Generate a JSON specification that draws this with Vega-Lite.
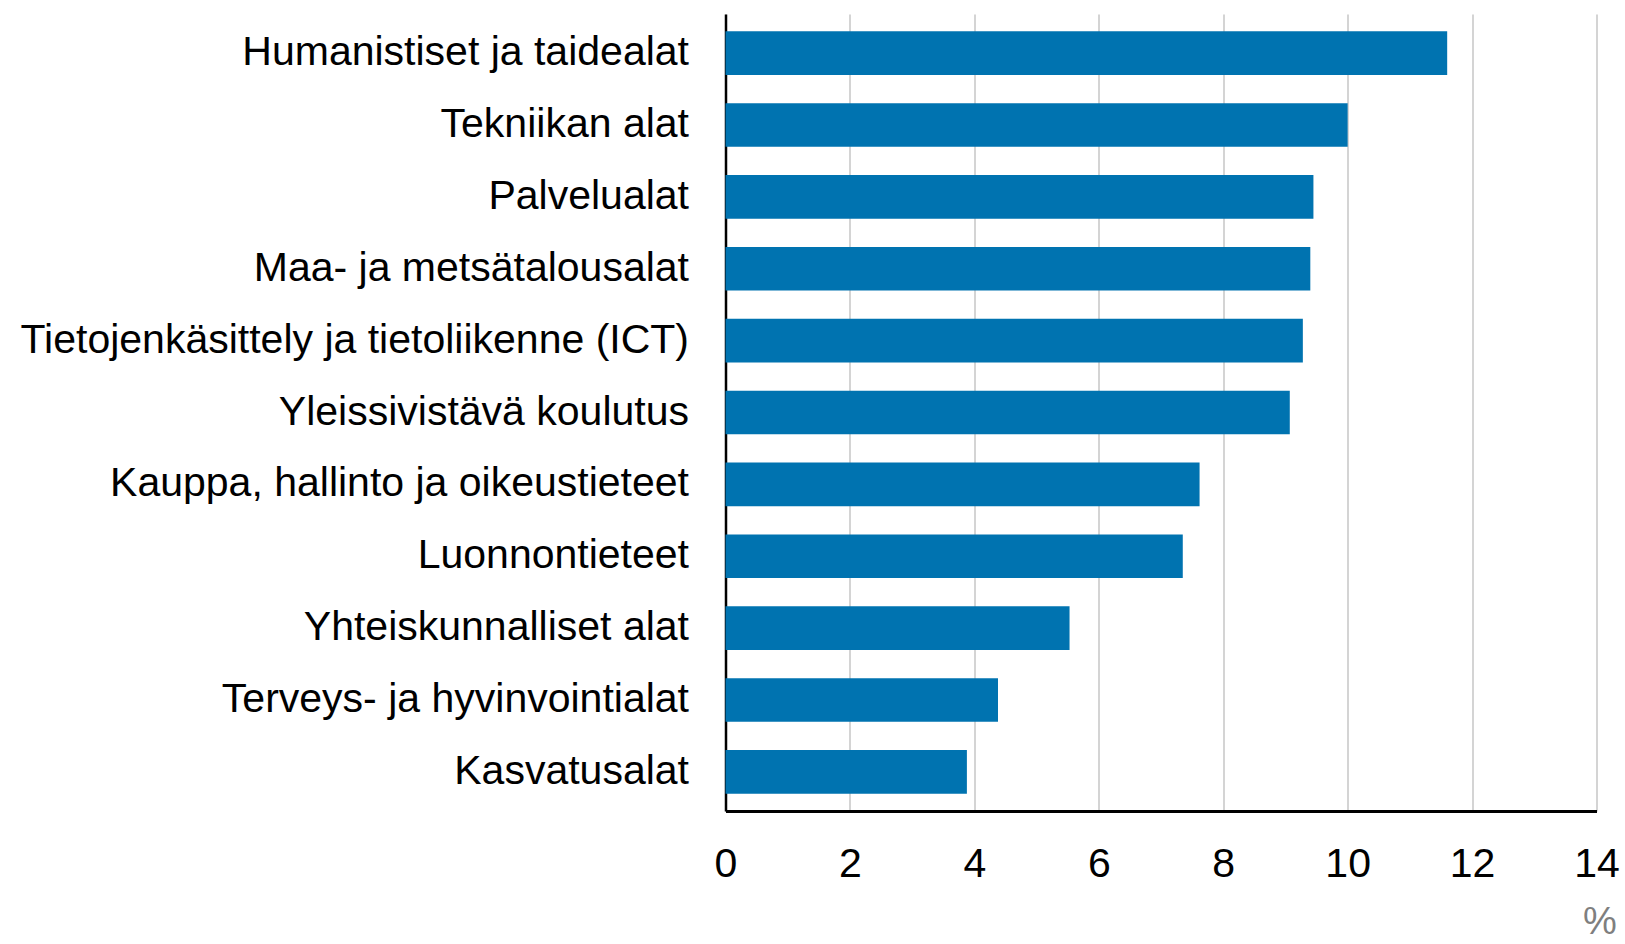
{
  "$schema": "https://vega.github.io/schema/vega-lite/v6.json",
  "width": 871,
  "height": 797,
  "autosize": {"type": "none"},
  "padding": {"left": 725.5, "top": 14, "right": 28.5, "bottom": 133},
  "background": "white",
  "config": {
    "view": {"stroke": null},
    "font": "Liberation Sans"
  },
  "data": {
    "values": [
      {"ala": "Humanistiset ja taidealat", "osuus": 11.6},
      {"ala": "Tekniikan alat", "osuus": 10.0},
      {"ala": "Palvelualat", "osuus": 9.45},
      {"ala": "Maa- ja metsätalousalat", "osuus": 9.4},
      {"ala": "Tietojenkäsittely ja tietoliikenne (ICT)", "osuus": 9.28},
      {"ala": "Yleissivistävä koulutus", "osuus": 9.07},
      {"ala": "Kauppa, hallinto ja oikeustieteet", "osuus": 7.62},
      {"ala": "Luonnontieteet", "osuus": 7.35},
      {"ala": "Yhteiskunnalliset alat", "osuus": 5.53},
      {"ala": "Terveys- ja hyvinvointialat", "osuus": 4.38},
      {"ala": "Kasvatusalat", "osuus": 3.88}
    ]
  },
  "mark": {"type": "bar", "color": "#0073B0"},
  "encoding": {
    "y": {
      "field": "ala",
      "type": "nominal",
      "sort": null,
      "scale": {"paddingInner": 0.393, "paddingOuter": 0.24},
      "axis": {
        "title": null,
        "ticks": false,
        "labelPadding": 37,
        "labelFontSize": 41,
        "labelColor": "#000000",
        "labelLimit": 0,
        "domainColor": "#000000",
        "domainWidth": 2.5,
        "grid": false
      }
    },
    "x": {
      "field": "osuus",
      "type": "quantitative",
      "scale": {"domain": [0, 14], "nice": false},
      "axis": {
        "values": [0, 2, 4, 6, 8, 10, 12, 14],
        "ticks": false,
        "labelPadding": 65,
        "labelBaseline": "alphabetic",
        "labelFontSize": 41,
        "labelColor": "#000000",
        "labelFlush": false,
        "labelOverlap": false,
        "domainColor": "#000000",
        "domainWidth": 3,
        "grid": true,
        "gridColor": "#d4d4d4",
        "gridWidth": 2,
        "title": "%",
        "titleFontSize": 38,
        "titleFontWeight": "normal",
        "titleColor": "#7f7f7f",
        "titleAlign": "left",
        "titleBaseline": "alphabetic",
        "titleAnchor": "start",
        "titleX": 857,
        "titleY": 122
      }
    }
  }
}
